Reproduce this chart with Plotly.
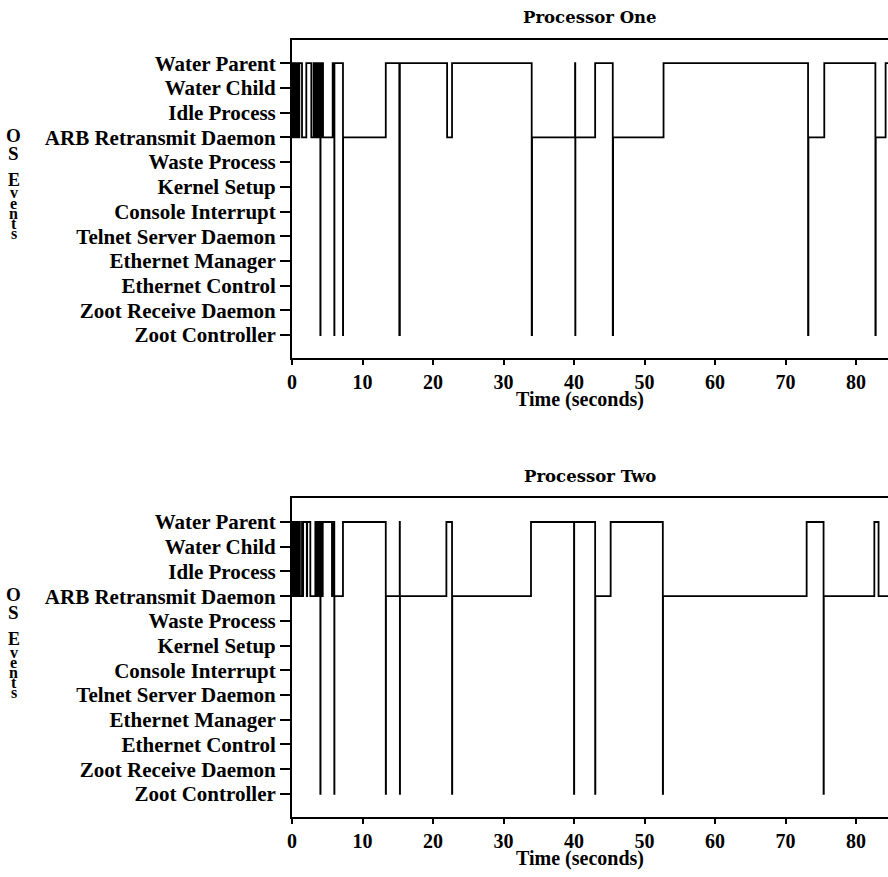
import plotly.graph_objects as go

# ---------------- data ----------------
events = ["Water Parent", "Water Child", "Idle Process", "ARB Retransmit Daemon",
          "Waste Process", "Kernel Setup", "Console Interrupt", "Telnet Server Daemon",
          "Ethernet Manager", "Ethernet Control", "Zoot Receive Daemon", "Zoot Controller"]
x_ticks = [0, 10, 20, 30, 40, 50, 60, 70, 80]

WP = "Water Parent"
ARB = "ARB Retransmit Daemon"
ZC = "Zoot Controller"

# Processor One: (time in seconds, event entered)
p1_times = [0.00, 0.07, 0.14, 0.21, 0.29, 0.36, 0.44, 0.51, 0.59, 0.66, 0.74, 0.81, 0.89, 0.96, 1.04,
            1.42, 2.03, 2.74, 3.07, 3.31, 3.55,
            3.62, 3.70, 3.78, 3.86, 3.94, 4.02, 4.05, 4.12, 4.20, 4.28, 4.36, 4.40,
            5.77, 5.85, 5.92, 6.00, 6.02,
            7.23, 7.25,
            13.30, 15.22, 15.30,
            22.00, 22.70, 34.00, 34.05,
            40.15, 40.18, 40.20, 43.00, 45.50, 45.55,
            52.70, 73.20, 73.25, 75.50, 82.75, 82.80, 84.20, 84.60]
p1_states = [WP, ARB, WP, ARB, WP, ARB, WP, ARB, WP, ARB, WP, ARB, WP, ARB, WP,
             ARB, WP, ARB, WP, ARB, WP,
             ARB, WP, ARB, WP, ARB, ZC, WP, ARB, WP, ARB, WP, ARB,
             WP, ARB, WP, ZC, WP,
             ZC, ARB,
             WP, ZC, WP,
             ARB, WP, ZC, ARB,
             WP, ZC, ARB, WP, ZC, ARB,
             WP, ZC, ARB, WP, ZC, ARB, WP, WP]

# Processor Two
p2_times = [0.00, 0.07, 0.14, 0.21, 0.29, 0.36, 0.44, 0.51, 0.59, 0.66, 0.74, 0.81, 0.89, 0.96, 1.04, 1.12, 1.23,
            1.42, 1.52, 1.58, 2.10, 2.15, 2.60, 3.31,
            3.38, 3.46, 3.54, 3.62, 3.70, 3.78, 3.86, 3.94, 4.02, 4.05, 4.12, 4.20, 4.28, 4.36, 4.49,
            5.67, 5.75, 5.82, 5.90, 6.00, 6.02,
            7.23, 13.30, 13.33,
            15.28, 15.30, 15.32,
            21.90, 22.70, 22.73,
            33.90, 40.00, 40.03, 43.00, 43.03,
            45.20, 52.60, 52.63,
            73.00, 75.40, 75.43, 82.60, 83.20, 84.60]
p2_states = [WP, ARB, WP, ARB, WP, ARB, WP, ARB, WP, ARB, WP, ARB, WP, ARB, WP, ARB, ARB,
             WP, ARB, WP, ARB, WP, ARB, WP,
             ARB, WP, ARB, WP, ARB, WP, ARB, WP, ZC, WP, ARB, WP, ARB, WP, WP,
             ARB, WP, ARB, WP, ZC, ARB,
             WP, ZC, ARB,
             WP, ZC, ARB,
             WP, ZC, ARB,
             WP, ZC, WP, ZC, ARB,
             WP, ZC, ARB,
             WP, ZC, ARB, WP, ARB, ARB]

# ---------------- layout geometry ----------------
W, H = 888, 877
L = 292
FONT = "Liberation Serif"

def py(p):
    return 1 - p / H

def px(p):
    return (p - L) / (W - L)

fig = go.Figure()
line = dict(color="black", width=1.8, shape="hv")
fig.add_trace(go.Scatter(x=p1_times, y=p1_states, mode="lines", line=line,
                         xaxis="x", yaxis="y", showlegend=False, hoverinfo="skip"))
fig.add_trace(go.Scatter(x=p2_times, y=p2_states, mode="lines", line=line,
                         xaxis="x2", yaxis="y2", showlegend=False, hoverinfo="skip"))

xr = [0, (W - L) / 70.5 * 10]
yr = [-0.94, 11.96]
cat_order = list(reversed(events))

xcommon = dict(range=xr, tickmode="array", tickvals=x_ticks, ticktext=[str(v) for v in x_ticks],
               showline=True, linecolor="black", linewidth=2, mirror=True,
               ticks="outside", ticklen=5, tickwidth=2, tickcolor="black",
               showgrid=False, zeroline=False,
               tickfont=dict(family=FONT, size=20, color="black", weight="bold"))
ycommon = dict(type="category", categoryorder="array", categoryarray=cat_order,
               tickmode="array", tickvals=events, ticktext=events,
               range=yr, showline=True, linecolor="black", linewidth=2, mirror=False,
               ticks="outside", ticklen=10, tickwidth=1.5, tickcolor="black",
               showgrid=False, zeroline=False,
               tickfont=dict(family=FONT, size=21, color="black", weight="bold"))

fig.update_layout(
    width=W, height=H,
    margin=dict(l=L, r=0, t=0, b=0),
    paper_bgcolor="white", plot_bgcolor="white",
    xaxis=dict(domain=[0, 1], anchor="y", **xcommon),
    yaxis=dict(domain=[py(358.3), py(39.5)], anchor="x", **ycommon),
    xaxis2=dict(domain=[0, 1], anchor="y2", **xcommon),
    yaxis2=dict(domain=[py(817.1), py(498.3)], anchor="x2", **ycommon),
)

ann = []
titles = [("Processor One", 17), ("Processor Two", 476)]
for t, yy in titles:
    ann.append(dict(text=t, x=0.5, y=py(yy), xref="paper", yref="paper",
                    showarrow=False, xanchor="center", yanchor="middle",
                    font=dict(family="DejaVu Serif", size=16.5, color="black", weight="bold")))
for yy in [399, 858]:
    ann.append(dict(text="Time (seconds)", x=px(580), y=py(yy), xref="paper", yref="paper",
                    showarrow=False, xanchor="center", yanchor="middle",
                    font=dict(family=FONT, size=20, color="black", weight="bold")))
letters = ["O", "S", "E", "v", "e", "n", "t", "s"]
letter_y = [135, 153.3, 180, 193, 203.5, 213.5, 223.5, 233.5]
letter_size = [19, 19, 18, 16, 16, 16, 16, 16]
for off in [0, 459]:
    for ch, ly, fs in zip(letters, letter_y, letter_size):
        ann.append(dict(text=ch, x=px(13.5), y=py(ly + off), xref="paper", yref="paper",
                        showarrow=False, xanchor="center", yanchor="middle",
                        font=dict(family=FONT, size=fs, color="black", weight="bold")))
fig.update_layout(annotations=ann)

fig.write_html("out.html")
